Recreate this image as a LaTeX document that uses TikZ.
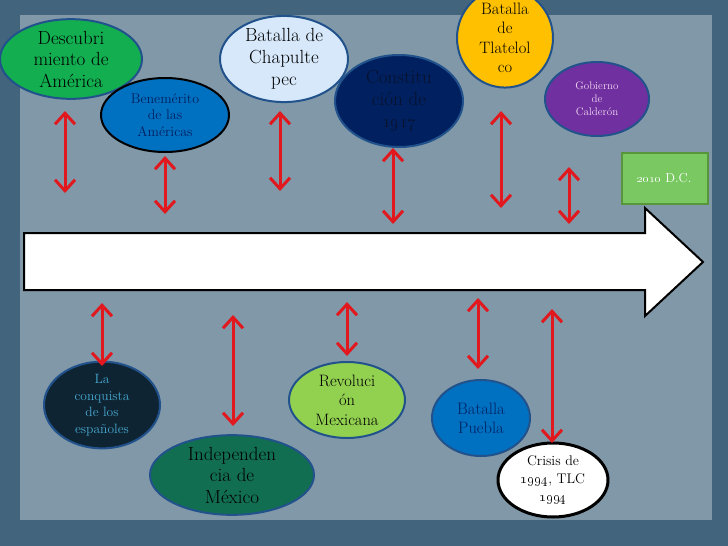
\documentclass[tikz,border=0pt]{standalone}
\usetikzlibrary{shapes.geometric,arrows.meta}
\definecolor{fondo}{RGB}{66,100,124}
\definecolor{papel}{RGB}{128,152,167}
\definecolor{borde}{RGB}{34,82,140}
\definecolor{rojo}{RGB}{225,25,30}
\definecolor{verde}{RGB}{18,174,80}
\definecolor{azul}{RGB}{0,112,192}
\definecolor{marino}{RGB}{0,32,96}
\definecolor{celeste}{RGB}{214,232,250}
\definecolor{oro}{RGB}{255,192,0}
\definecolor{morado}{RGB}{112,48,160}
\definecolor{pasto}{RGB}{122,200,98}
\definecolor{pastoborde}{RGB}{88,150,60}
\definecolor{noche}{RGB}{15,36,50}
\definecolor{cian}{RGB}{70,170,210}
\definecolor{bosque}{RGB}{18,110,80}
\definecolor{lima}{RGB}{146,208,80}
\definecolor{tinta}{RGB}{8,18,45}
\definecolor{rosa}{RGB}{242,215,242}
\tikzset{
  hito/.style={ellipse, draw=borde, line width=2pt, inner sep=0pt, align=center, text=black},
  fs/.style 2 args={font=\fontsize{#1}{#2}\selectfont},
  flecha/.style={<->, draw=rojo, line width=3pt},
}
\begin{document}
\begin{tikzpicture}[x=1pt, y=-1pt, >={Straight Barb[length=11pt,width=20pt]}]
  % fondo con marco oscuro
  \fill[fondo] (0,0) rectangle (728,546);
  \fill[papel] (20,15) rectangle (712,520);
  \useasboundingbox (0,0) rectangle (728,546);
  % flecha de la linea del tiempo
  \draw[fill=white, line width=2pt, line join=miter]
    (24,233) -- (645,233) -- (645,208) -- (703,262) -- (645,316) -- (645,290) -- (24,290) -- cycle;
  % hitos de arriba
  \node[hito, fill=verde, fs={19}{21.5}, minimum width=142pt, minimum height=74pt] (descub) at (71,59)
    {Descubri\\miento de\\Am\'erica};
  \node[hito, fill=azul, draw=black, text=marino, fs={14}{16.5}, minimum width=128pt, minimum height=74pt] (benem) at (165,115)
    {Benem\'erito\\de las\\Am\'ericas};
  \node[hito, fill=celeste, fs={19}{22}, minimum width=128pt, minimum height=84pt] (chapul) at (284,59)
    {Batalla de\\Chapulte\\pec};
  \node[hito, fill=marino, text=tinta, fs={19}{22}, minimum width=128pt, minimum height=92pt] (consti) at (399,101)
    {Constitu\\ci\'on de\\\oldstylenums{1917}};
  \node[hito, fill=oro, fs={16.5}{19.5}, minimum width=96pt, minimum height=96pt] (tlatel) at (505,38)
    {Batalla\\de\\Tlatelol\\co};
  \node[hito, fill=morado, text=rosa, fs={11}{13}, minimum width=104pt, minimum height=74pt] (calder) at (597,99)
    {Gobierno\\de\\Calder\'on};
  \node[draw=pastoborde, fill=pasto, line width=2pt, text=white, fs={13}{15}, minimum width=86pt, minimum height=51pt] (final) at (664.5,178)
    {\oldstylenums{2010} D.C.};
  % hitos de abajo
  \node[hito, fill=noche, text=cian, fs={13.5}{16.5}, minimum width=116pt, minimum height=76pt] (conqui) at (102,405)
    {La\\conquista\\de los\\espa\~noles};
  \node[hito, fill=bosque, fs={19}{21.5}, minimum width=164pt, minimum height=76pt] (indepe) at (232,475)
    {Independen\\cia de\\M\'exico};
  \node[hito, fill=lima, fs={16.5}{19.5}, minimum width=116pt, minimum height=76pt] (revolu) at (347,400)
    {Revoluci\\\'on\\Mexicana};
  \node[hito, fill=azul, text=marino, fs={16.5}{19}, minimum width=98pt, minimum height=76pt] (puebla) at (481,418)
    {Batalla\\Puebla};
  \node[hito, fill=white, draw=black, line width=3pt, fs={14}{18}, minimum width=110pt, minimum height=74pt] (crisis) at (553,480)
    {Crisis de\\\oldstylenums{1994}, TLC\\\oldstylenums{1994}};
  % extremos de las flechas rojas
  \coordinate (a1) at (65,111);  \coordinate (b1) at (65,193);
  \coordinate (a2) at (165,156); \coordinate (b2) at (165,214);
  \coordinate (a3) at (280,111); \coordinate (b3) at (280,191);
  \coordinate (a4) at (393,148); \coordinate (b4) at (393,224);
  \coordinate (a5) at (501,111); \coordinate (b5) at (501,208);
  \coordinate (a6) at (569,167); \coordinate (b6) at (569,224);
  \coordinate (c1) at (102,303); \coordinate (d1) at (102,366);
  \coordinate (c2) at (233,315); \coordinate (d2) at (233,426);
  \coordinate (c3) at (347,302); \coordinate (d3) at (347,356);
  \coordinate (c4) at (478,298); \coordinate (d4) at (478,369);
  \coordinate (c5) at (552,309); \coordinate (d5) at (552,443);
  \draw[flecha] (a1) -- (b1);
  \draw[flecha] (a2) -- (b2);
  \draw[flecha] (a3) -- (b3);
  \draw[flecha] (a4) -- (b4);
  \draw[flecha] (a5) -- (b5);
  \draw[flecha] (a6) -- (b6);
  \draw[flecha] (c1) -- (d1);
  \draw[flecha] (c2) -- (d2);
  \draw[flecha] (c3) -- (d3);
  \draw[flecha] (c4) -- (d4);
  \draw[flecha] (c5) -- (d5);
\end{tikzpicture}
\end{document}
